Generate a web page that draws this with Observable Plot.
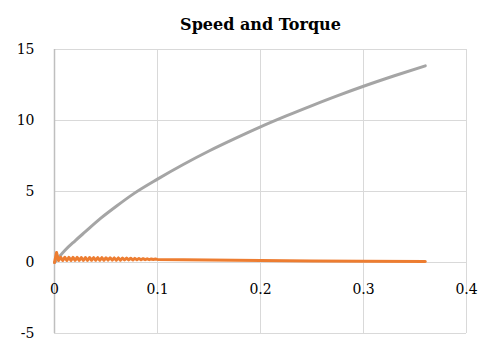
<!DOCTYPE html>
<html>
<head>
<meta charset="utf-8">
<script src="https://cdn.jsdelivr.net/npm/d3@7"></script>
<script src="https://cdn.jsdelivr.net/npm/@observablehq/plot@0.6"></script>
<style>
  html, body { margin: 0; padding: 0; background: #fff; }
</style>
</head>
<body>
<div id="chart"></div>
<script>
const title = "Speed and Torque";

const speedX = [0, 0.01, 0.02, 0.03, 0.045, 0.06, 0.077, 0.1, 0.125, 0.15, 0.175, 0.2, 0.225, 0.25, 0.275, 0.3, 0.33, 0.36];
const speedY = [0, 0.85, 1.53, 2.17, 3.12, 3.96, 4.85, 5.87, 6.9, 7.85, 8.72, 9.55, 10.32, 11.05, 11.75, 12.41, 13.15, 13.85];

const torqueX = [0, 0.002, 0.004,
  0.006, 0.008, 0.010, 0.012, 0.014, 0.016, 0.018, 0.020, 0.022, 0.024,
  0.026, 0.028, 0.030, 0.032, 0.034, 0.036, 0.038, 0.040, 0.042, 0.044,
  0.046, 0.048, 0.050, 0.052, 0.054, 0.056, 0.058, 0.060, 0.062, 0.064,
  0.066, 0.068, 0.070, 0.072, 0.074, 0.076, 0.078, 0.080, 0.082, 0.084,
  0.086, 0.088, 0.090, 0.092, 0.094, 0.096, 0.098, 0.100,
  0.15, 0.2, 0.25, 0.3, 0.36];
const torqueY = [0, 0.7, 0.14,
  0.37, 0.14, 0.37, 0.14, 0.36, 0.14, 0.36, 0.15, 0.36, 0.15,
  0.35, 0.15, 0.35, 0.15, 0.35, 0.16, 0.34, 0.16, 0.34, 0.16,
  0.34, 0.16, 0.33, 0.17, 0.33, 0.17, 0.32, 0.17, 0.32, 0.17,
  0.31, 0.18, 0.31, 0.18, 0.30, 0.18, 0.29, 0.19, 0.28, 0.19,
  0.27, 0.20, 0.26, 0.20, 0.25, 0.21, 0.24, 0.22,
  0.17, 0.14, 0.11, 0.09, 0.07];

const xTicks = [0, 0.1, 0.2, 0.3, 0.4];
const yTicks = [-5, 0, 5, 10, 15];

const speed = speedX.map((x, i) => ({x, y: speedY[i]}));
const torque = torqueX.map((x, i) => ({x, y: torqueY[i]}));

const font = "'DejaVu Serif', serif";

const plot = Plot.plot({
  width: 481,
  height: 344,
  marginTop: 49,
  marginBottom: 11,
  marginLeft: 54,
  marginRight: 15,
  style: {fontFamily: font, fontSize: "13px", color: "#000", background: "#fff"},
  x: {domain: [0, 0.4]},
  y: {domain: [-5, 15]},
  marks: [
    Plot.ruleX(xTicks.filter(d => d > 0), {stroke: "#d9d9d9", strokeWidth: 1}),
    Plot.ruleY(yTicks, {stroke: "#d9d9d9", strokeWidth: 1}),
    Plot.ruleX([0], {stroke: "#bfbfbf", strokeWidth: 1.5}),
    Plot.axisY(yTicks, {tickSize: 0, tickPadding: 20, tickFormat: d => String(d), fontSize: 14, label: null}),
    Plot.text(xTicks, {x: d => d, y: 0, dy: 27, text: d => String(d), fontSize: 14, fill: "#000"}),
    Plot.axisX({ticks: [], label: null, tickSize: 0}),
    Plot.line(speed, {x: "x", y: "y", stroke: "#a5a5a5", strokeWidth: 3, strokeLinecap: "round", curve: "monotone-x"}),
    Plot.line(torque, {x: "x", y: "y", stroke: "#ed7d31", strokeWidth: 3, strokeLinecap: "round"}),
    Plot.text([title], {frameAnchor: "top", dy: -31, text: d => d, fontSize: 16, fontWeight: "bold", fill: "#000"})
  ]
});
document.getElementById("chart").appendChild(plot);
</script>
</body>
</html>
